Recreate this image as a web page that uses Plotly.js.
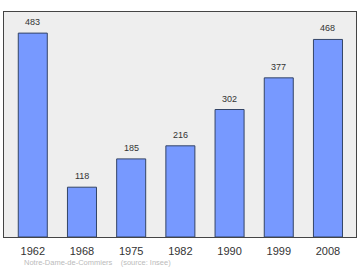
<!DOCTYPE html>
<html>
<head>
<meta charset="utf-8">
<script src="https://cdn.plot.ly/plotly-3.0.1.min.js"></script>
<style>html,body{margin:0;padding:0;background:#fff;}#chart{width:360px;height:270px;}</style>
</head>
<body>
<div id="chart"></div>
<script>
const years = ["1962", "1968", "1975", "1982", "1990", "1999", "2008"];
const population = [483, 118, 185, 216, 302, 377, 468];
const footerPlace = "Notre-Dame-de-Commiers";
const footerSource = "(source: Insee)";

const trace = {
  type: "bar",
  x: years,
  y: population,
  marker: {color: "#7799ff", line: {color: "#334466", width: 1}},
  width: 0.59,
  hoverinfo: "none"
};

// category axis: annotation x given as the category index
const labelAnnotations = years.map((yr, i) => ({
  x: i, y: population[i], xref: "x", yref: "y",
  text: String(population[i]), showarrow: false,
  yanchor: "bottom", yshift: 4,
  font: {family: "Liberation Sans, Arial, sans-serif", size: 9, color: "#333"}
}));

const layout = {
  width: 360, height: 270,
  margin: {l: 4, r: 4, t: 12, b: 33},
  paper_bgcolor: "#ffffff",
  plot_bgcolor: "#eeeeee",
  showlegend: false,
  xaxis: {
    type: "category",
    range: [-0.585, 6.57],
    showline: true, mirror: true, linecolor: "#444", linewidth: 1,
    showgrid: false, ticks: "", ticklabelstandoff: 4,
    tickfont: {family: "Liberation Sans, Arial, sans-serif", size: 11, color: "#333"}
  },
  yaxis: {
    range: [0, 533],
    showline: true, mirror: true, linecolor: "#444", linewidth: 1,
    showgrid: false, zeroline: false, showticklabels: false, ticks: ""
  },
  annotations: labelAnnotations.concat([
    {xref: "paper", yref: "paper", x: 0.05, y: -0.115, xanchor: "left", yanchor: "middle",
     showarrow: false, text: footerPlace + "&nbsp;&nbsp;&nbsp;&nbsp;" + footerSource,
     font: {family: "Liberation Sans, Arial, sans-serif", size: 7.5, color: "#bbbbbb"}}
  ])
};

Plotly.newPlot("chart", [trace], layout, {staticPlot: true, displayModeBar: false});
</script>
</body>
</html>
